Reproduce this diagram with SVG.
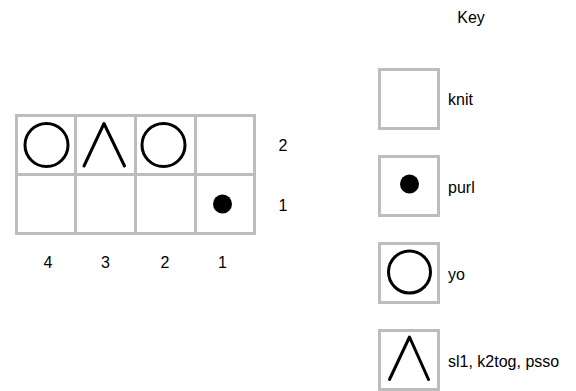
<svg xmlns="http://www.w3.org/2000/svg" width="576" height="391" viewBox="0 0 576 391">
<style>
.cell{fill:#fff;stroke:#bdbdbd;stroke-width:3}
.sym{fill:none;stroke:#000;stroke-width:3;stroke-linecap:round;stroke-linejoin:round}
.dot{fill:#000}
text{font-family:"Liberation Sans",Arial,sans-serif;font-size:16px;fill:#000}
.c{text-anchor:middle}
</style>
<rect width="576" height="391" fill="#fff"/>
<g id="chart">
<rect class="cell" x="16.5" y="115.5" width="59" height="59"/>
<rect class="cell" x="75.5" y="115.5" width="60" height="59"/>
<rect class="cell" x="135.5" y="115.5" width="60" height="59"/>
<rect class="cell" x="195.5" y="115.5" width="59" height="59"/>
<rect class="cell" x="16.5" y="174.5" width="59" height="59"/>
<rect class="cell" x="75.5" y="174.5" width="60" height="59"/>
<rect class="cell" x="135.5" y="174.5" width="60" height="59"/>
<rect class="cell" x="195.5" y="174.5" width="59" height="59"/>
<circle class="sym" cx="46.5" cy="145" r="21.5"/>
<polyline class="sym" points="84,166 104,123.5 124.5,166"/>
<circle class="sym" cx="163.5" cy="145" r="21.5"/>
<circle class="dot" cx="222.5" cy="204" r="9.5"/>
</g>
<g id="row-labels">
<text class="c" x="283" y="151">2</text>
<text class="c" x="283" y="211">1</text>
</g>
<g id="col-labels">
<text class="c" x="48" y="268">4</text>
<text class="c" x="105.5" y="268">3</text>
<text class="c" x="165" y="268">2</text>
<text class="c" x="222.5" y="268">1</text>
</g>
<text class="c" x="471" y="23">Key</text>
<g id="key-knit">
<rect class="cell" x="379.5" y="69.5" width="59" height="59"/>
<text x="448" y="105">knit</text>
</g>
<g id="key-purl">
<rect class="cell" x="379.5" y="156.5" width="59" height="59"/>
<circle class="dot" cx="409.5" cy="184" r="9.5"/>
<text x="448" y="193">purl</text>
</g>
<g id="key-yo">
<rect class="cell" x="379.5" y="243.5" width="59" height="59"/>
<circle class="sym" cx="409.5" cy="272" r="21"/>
<text x="448" y="280">yo</text>
</g>
<g id="key-sl1">
<rect class="cell" x="379.5" y="330.5" width="59" height="59"/>
<polyline class="sym" points="389.5,379.5 409.5,337 428.5,379.5"/>
<text x="448" y="367">sl1, k2tog, psso</text>
</g>
</svg>
